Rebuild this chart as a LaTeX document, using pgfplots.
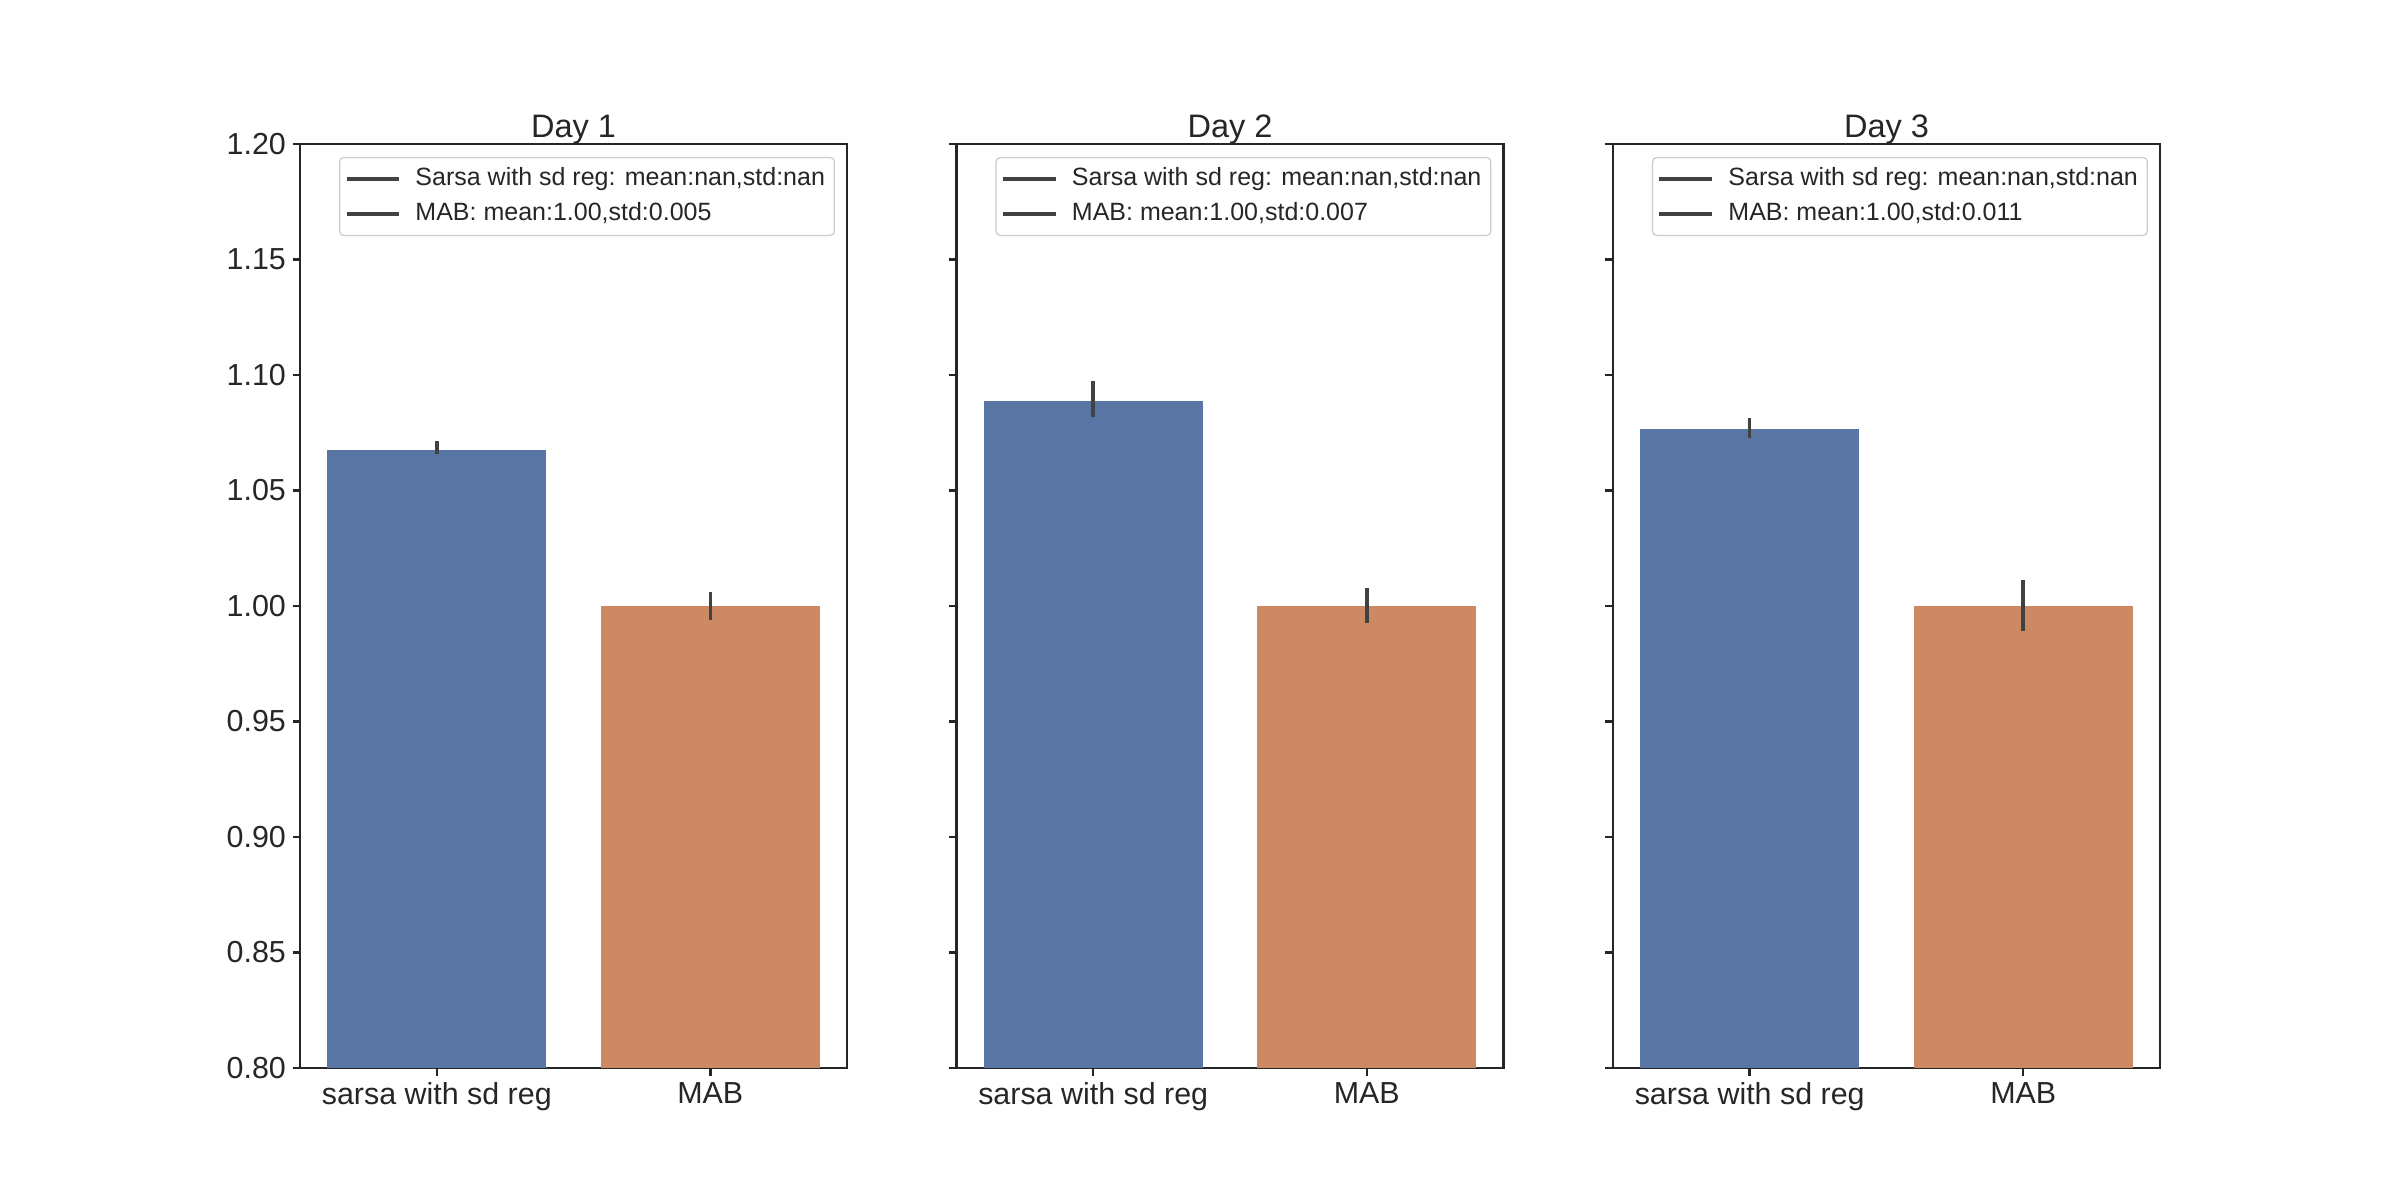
\documentclass[border=0pt]{standalone}
\usepackage{fontspec}
\setmainfont{Liberation Sans}
\usepackage{pgfplots}
\pgfplotsset{compat=1.18}
\definecolor{sbblue}{HTML}{5975A4}
\definecolor{sborange}{HTML}{CC8963}
\definecolor{txt}{HTML}{262626}
\definecolor{errc}{HTML}{424242}
\definecolor{legframe}{HTML}{CCCCCC}

\pgfplotsset{
  legline/.style={errc, line width=1.6pt},
  dayaxis/.style={
    scale only axis, width=262.588pt, height=443.52pt, anchor=south west,
    xmin=-0.5, xmax=1.5, ymin=0.8, ymax=1.2,
    xtick={0,1}, xticklabels={sarsa with sd reg, MAB},
    ytick={0.80,0.85,0.90,0.95,1.00,1.05,1.10,1.15,1.20},
    /pgf/number format/assume math mode=true,
    yticklabel style={/pgf/number format/fixed, /pgf/number format/fixed zerofill, /pgf/number format/precision=2},
    tick align=outside, xtick pos=left, ytick pos=left,
    major tick length=3.6pt,
    every tick/.style={txt, line width=1.2pt},
    axis line style={txt, line width=1.2pt},
    tick label style={font=\fontsize{14.6}{17}\selectfont, text=txt},
    yticklabel style={inner sep=0pt, anchor=east, xshift=-3pt},
    xticklabel style={inner sep=0pt, anchor=north, yshift=-3pt},
    title style={font=\fontsize{15.6}{18}\selectfont, text=txt, at={(0.5,1)}, anchor=base, yshift=-3.1pt},
    legend cell align=left,
    legend image code/.code={\draw[#1] (0pt,0pt) -- (25.3pt,0pt);},
    legend style={at={(1,1)}, anchor=north east, xshift=-5.8pt, yshift=-6.2pt,
      draw=legframe, rounded corners=2pt, line width=0.6pt, fill=white,
      font=\fontsize{12}{14}\selectfont, text=txt,
      inner xsep=2.5pt, inner ysep=2.75pt, row sep=1.7pt, column sep=5pt,
      nodes={inner sep=2pt, text height=8.6pt, text depth=2.5pt}},
    clip=true,
  },
  bars/.style={ybar, bar shift=0pt, bar width=0.8, draw=none, forget plot,
    error bars/y dir=both, error bars/y explicit, error bars/error mark=none,
    error bars/error bar style={errc, line width=1.7pt}},
}

\begin{document}
\begin{tikzpicture}
\path (0,0) rectangle (1152pt,576pt);

% Day 1
\begin{axis}[dayaxis, at={(144pt,63.36pt)}, title={Day 1}]
\addplot[bars, fill=sbblue] coordinates {(0,1.0676) += (0,0.0037) -= (0,0.0020)};
\addplot[bars, fill=sborange] coordinates {(1,1.0000) += (0,0.0060) -= (0,0.0060)};
\addlegendimage{legline}
\addlegendentry{Sarsa with sd reg: mean:nan,std:nan}
\addlegendimage{legline}
\addlegendentry{MAB: mean:1.00,std:0.005}
\end{axis}

% Day 2
\begin{axis}[dayaxis, at={(459.106pt,63.36pt)}, title={Day 2}, yticklabels={}]
\addplot[bars, fill=sbblue] coordinates {(0,1.0889) += (0,0.0086) -= (0,0.0071)};
\addplot[bars, fill=sborange] coordinates {(1,1.0000) += (0,0.0080) -= (0,0.0073)};
\addlegendimage{legline}
\addlegendentry{Sarsa with sd reg: mean:nan,std:nan}
\addlegendimage{legline}
\addlegendentry{MAB: mean:1.00,std:0.007}
\end{axis}

% Day 3
\begin{axis}[dayaxis, at={(774.212pt,63.36pt)}, title={Day 3}, yticklabels={}]
\addplot[bars, fill=sbblue] coordinates {(0,1.0766) += (0,0.0046) -= (0,0.0037)};
\addplot[bars, fill=sborange] coordinates {(1,1.0000) += (0,0.0112) -= (0,0.0107)};
\addlegendimage{legline}
\addlegendentry{Sarsa with sd reg: mean:nan,std:nan}
\addlegendimage{legline}
\addlegendentry{MAB: mean:1.00,std:0.011}
\end{axis}
\end{tikzpicture}
\end{document}
